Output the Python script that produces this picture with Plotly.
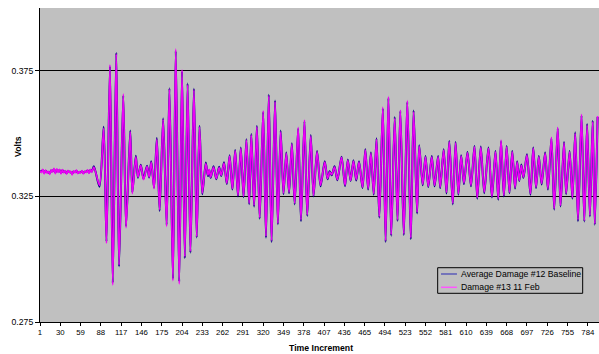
import plotly.graph_objects as go

# Time increment (sample index) of each read point
sample_index = [
    1, 3, 5, 7, 9, 11, 13, 15, 17, 19, 21, 23, 25, 27, 29, 31, 33, 35, 37, 39,
    41, 43, 45, 47, 49, 51, 53, 55, 57, 59, 61, 63, 65, 67, 69, 71, 73, 75,
    78, 86, 92, 96, 101, 105, 110, 114, 120, 124, 130, 133, 138, 141, 145, 149, 154, 157, 160,
    164, 168, 172, 177, 182, 186, 191, 195, 200, 204,
    208, 212, 216, 221, 225, 229, 233, 238, 241, 243,
    245, 249, 253, 257, 260, 264, 268, 272, 276, 280,
    284, 288, 292, 296, 300, 303, 307, 311, 315,
    320, 324, 328, 332, 337, 341, 345, 349, 353, 357,
    361, 365, 370, 374, 379, 383, 388, 392, 397, 402,
    408, 412, 415, 418, 422, 426, 432, 437, 441, 445,
    449, 453, 457, 462, 466, 470, 474,
    478, 482, 486, 491, 495, 499, 503, 508, 512, 516,
    521, 526, 531, 535, 540, 543, 548, 552, 556, 561,
    565, 570, 573, 578, 582, 586, 591, 595, 599, 603,
    607, 612, 617, 622, 626, 631,
    636, 642, 647, 652, 656, 660, 664, 668, 672, 676,
    680, 683, 686, 689, 692, 697, 702, 706, 710, 714,
    718, 723, 727, 732, 736, 741, 745, 750, 753, 758,
    762, 766, 770, 775, 779, 783, 787, 791, 794, 798,
]

damage13_volts = [
    0.3352, 0.3345, 0.3358, 0.3340, 0.3355, 0.3343, 0.3350, 0.3338, 0.3356, 0.3347,
    0.3362, 0.3341, 0.3360, 0.3346, 0.3358, 0.3340, 0.3357, 0.3344, 0.3353, 0.3339,
    0.3354, 0.3345, 0.3350, 0.3336, 0.3352, 0.3344, 0.3355, 0.3341, 0.3349, 0.3343,
    0.3353, 0.3340, 0.3351, 0.3345, 0.3356, 0.3342, 0.3358, 0.3346,
    0.3367, 0.3294, 0.3521, 0.3063, 0.3774, 0.2897, 0.3817, 0.2977, 0.3658, 0.3125,
    0.3507, 0.3261, 0.3407, 0.3327, 0.3374, 0.3317, 0.3370, 0.3327, 0.3387,
    0.3281, 0.3477, 0.3197, 0.3557, 0.3130, 0.3677, 0.2914, 0.3837, 0.2901, 0.3754,
    0.3010, 0.3694, 0.3031, 0.3674, 0.3090, 0.3527, 0.3263, 0.3381, 0.3335, 0.3358,
    0.3327, 0.3367, 0.3321, 0.3365, 0.3334, 0.3383, 0.3303, 0.3410, 0.3281, 0.3431,
    0.3254, 0.3441, 0.3251, 0.3474, 0.3223, 0.3494, 0.3214, 0.3527, 0.3166,
    0.3591, 0.3091, 0.3650, 0.3074, 0.3627, 0.3143, 0.3507, 0.3263, 0.3421, 0.3267,
    0.3458, 0.3223, 0.3525, 0.3157, 0.3554, 0.3177, 0.3490, 0.3254, 0.3427, 0.3294,
    0.3387, 0.3321, 0.3347, 0.3337, 0.3367, 0.3317, 0.3405, 0.3294, 0.3394, 0.3314,
    0.3391, 0.3317, 0.3387, 0.3287, 0.3434, 0.3281, 0.3421,
    0.3261, 0.3477, 0.3170, 0.3605, 0.3074, 0.3647, 0.3098, 0.3561, 0.3157, 0.3594,
    0.3101, 0.3631, 0.3085, 0.3587, 0.3187, 0.3450, 0.3298, 0.3407, 0.3290, 0.3407,
    0.3294, 0.3407, 0.3287, 0.3434, 0.3267, 0.3467, 0.3223, 0.3463, 0.3261, 0.3410,
    0.3303, 0.3423, 0.3294, 0.3447, 0.3245, 0.3445,
    0.3267, 0.3441, 0.3250, 0.3427, 0.3241, 0.3474, 0.3254, 0.3447, 0.3267, 0.3427,
    0.3285, 0.3387, 0.3314, 0.3374, 0.3327, 0.3414, 0.3261, 0.3441, 0.3287, 0.3407,
    0.3301, 0.3421, 0.3281, 0.3485, 0.3201, 0.3525, 0.3214, 0.3463, 0.3263, 0.3427,
    0.3245, 0.3501, 0.3157, 0.3577, 0.3154, 0.3534, 0.3174, 0.3547, 0.3141, 0.3570,
]

baseline12_volts = [
    0.3349, 0.3351, 0.3354, 0.3344, 0.3352, 0.3347, 0.3346, 0.3342, 0.3353, 0.3350,
    0.3358, 0.3345, 0.3356, 0.3349, 0.3355, 0.3343, 0.3354, 0.3347, 0.3350, 0.3342,
    0.3351, 0.3348, 0.3347, 0.3340, 0.3349, 0.3347, 0.3352, 0.3344, 0.3346, 0.3346,
    0.3350, 0.3343, 0.3348, 0.3348, 0.3353, 0.3345, 0.3355, 0.3349,
    0.3370, 0.3288, 0.3527, 0.3069, 0.3768, 0.2905, 0.3822, 0.2971, 0.3652, 0.3131,
    0.3512, 0.3266, 0.3412, 0.3324, 0.3376, 0.3320, 0.3372, 0.3325, 0.3390,
    0.3284, 0.3482, 0.3192, 0.3561, 0.3136, 0.3681, 0.2921, 0.3829, 0.2910, 0.3748,
    0.3004, 0.3699, 0.3026, 0.3679, 0.3086, 0.3531, 0.3259, 0.3385, 0.3331, 0.3355,
    0.3324, 0.3370, 0.3318, 0.3368, 0.3331, 0.3386, 0.3299, 0.3414, 0.3277, 0.3435,
    0.3250, 0.3445, 0.3247, 0.3478, 0.3219, 0.3498, 0.3209, 0.3531, 0.3161,
    0.3586, 0.3085, 0.3655, 0.3068, 0.3632, 0.3139, 0.3512, 0.3259, 0.3425, 0.3263,
    0.3462, 0.3218, 0.3520, 0.3151, 0.3550, 0.3172, 0.3494, 0.3250, 0.3431, 0.3290,
    0.3390, 0.3318, 0.3350, 0.3334, 0.3370, 0.3314, 0.3408, 0.3290, 0.3397, 0.3311,
    0.3394, 0.3313, 0.3390, 0.3283, 0.3438, 0.3277, 0.3425,
    0.3257, 0.3481, 0.3165, 0.3600, 0.3068, 0.3642, 0.3093, 0.3566, 0.3152, 0.3590,
    0.3096, 0.3626, 0.3079, 0.3592, 0.3182, 0.3454, 0.3294, 0.3411, 0.3287, 0.3411,
    0.3290, 0.3411, 0.3283, 0.3438, 0.3262, 0.3471, 0.3218, 0.3467, 0.3257, 0.3414,
    0.3299, 0.3427, 0.3290, 0.3451, 0.3241, 0.3449,
    0.3263, 0.3445, 0.3246, 0.3431, 0.3237, 0.3470, 0.3250, 0.3451, 0.3263, 0.3431,
    0.3281, 0.3390, 0.3311, 0.3377, 0.3324, 0.3418, 0.3257, 0.3445, 0.3283, 0.3411,
    0.3297, 0.3425, 0.3277, 0.3481, 0.3197, 0.3521, 0.3210, 0.3467, 0.3259, 0.3431,
    0.3241, 0.3505, 0.3151, 0.3572, 0.3150, 0.3538, 0.3170, 0.3551, 0.3137, 0.3566,
]

x_tick_labels = [1, 30, 59, 88, 117, 146, 175, 204, 233, 262, 291, 320, 349, 378,
                 407, 436, 465, 494, 523, 552, 581, 610, 639, 668, 697, 726, 755, 784]
y_tick_values = [0.275, 0.325, 0.375]

name_baseline = "Average Damage #12 Baseline"
name_damage = "Damage #13 11 Feb"
color_baseline = "#000080"
color_damage = "#FF00FF"

FONT = "Liberation Sans, Arial, sans-serif"

fig = go.Figure()
fig.add_trace(go.Scatter(x=sample_index, y=baseline12_volts, mode="lines",
                         name=name_baseline,
                         line=dict(color=color_baseline, width=2.0, shape="spline", smoothing=0.8)))
fig.add_trace(go.Scatter(x=sample_index, y=damage13_volts, mode="lines",
                         name=name_damage, opacity=0.92,
                         line=dict(color=color_damage, width=1.7, shape="spline", smoothing=0.8)))

# legend drawn as a box inside the plot area
lx0, lx1, ly0, ly1 = 0.7114, 0.9708, 0.0914, 0.1729
shapes = [dict(type="rect", xref="paper", yref="paper", x0=lx0, x1=lx1, y0=ly0, y1=ly1,
               line=dict(color="black", width=1), fillcolor="rgba(0,0,0,0)")]
annotations = []
for yy, nm, col in [(0.1529, name_baseline, "#5a5ab8"), (0.1105, name_damage, "#ff55ff")]:
    shapes.append(dict(type="line", xref="paper", yref="paper", x0=0.7174, x1=0.7459,
                       y0=yy, y1=yy, line=dict(color=col, width=1.5)))
    annotations.append(dict(xref="paper", yref="paper", x=0.7496, y=yy, text=nm,
                            showarrow=False, xanchor="left", yanchor="middle",
                            font=dict(family=FONT, size=8.7, color="black")))

annotations.append(dict(xref="paper", yref="paper", x=-0.0394, y=0.5605, text="<b>Volts</b>",
                        textangle=-90, showarrow=False, xanchor="center", yanchor="middle",
                        font=dict(family=FONT, size=8.7, color="black")))
annotations.append(dict(xref="paper", yref="paper", x=0.503, y=-0.0828, text="<b>Time Increment</b>",
                        showarrow=False, xanchor="center", yanchor="middle",
                        font=dict(family=FONT, size=8.7, color="black")))

fig.update_layout(
    width=599, height=354,
    margin=dict(l=40, r=0, t=8, b=32),
    plot_bgcolor="#C0C0C0", paper_bgcolor="white",
    showlegend=False,
    shapes=shapes, annotations=annotations,
    font=dict(family=FONT, color="black"),
)
fig.update_xaxes(range=[1, 800], tickvals=x_tick_labels, ticktext=[str(v) for v in x_tick_labels],
                 ticks="outside", ticklen=3, tickcolor="black", showgrid=False, zeroline=False,
                 showline=True, linecolor="black", linewidth=1,
                 tickfont=dict(family=FONT, size=7.8, color="black"))
fig.update_yaxes(range=[0.275, 0.4], tickvals=y_tick_values, ticktext=["%.3f" % v for v in y_tick_values],
                 ticks="outside", ticklen=4, tickcolor="black", showgrid=True, gridcolor="black",
                 gridwidth=1, zeroline=False, showline=True, linecolor="black", linewidth=1,
                 tickfont=dict(family=FONT, size=8.7, color="black"))

fig.write_html("out.html", config={"displayModeBar": False},
               post_script="document.body.style.margin='0';document.body.style.overflow='hidden';")
